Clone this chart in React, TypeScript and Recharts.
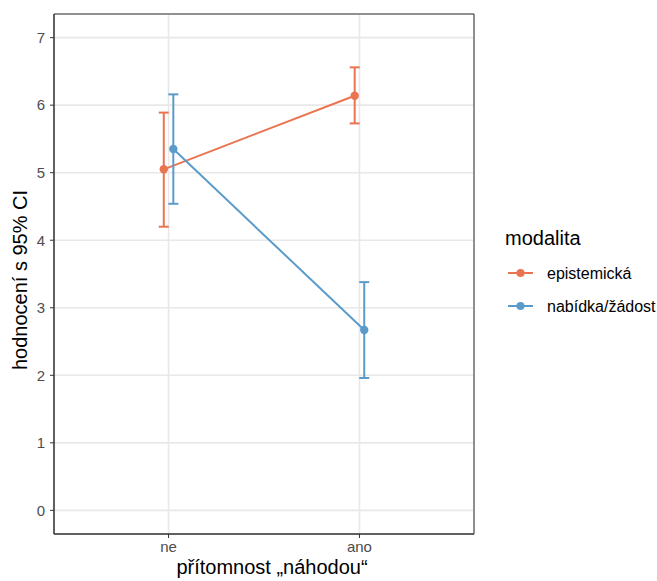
import { LineChart, Line, XAxis, YAxis, CartesianGrid, ErrorBar, ReferenceArea, Label } from "recharts"

const categories = ["ne", "ano"]
const yTicks = [0, 1, 2, 3, 4, 5, 6, 7]

const epistemickaMean = [5.05, 6.14]
const epistemickaLow = [4.2, 5.73]
const epistemickaHigh = [5.89, 6.56]

const nabidkaMean = [5.35, 2.67]
const nabidkaLow = [4.54, 1.96]
const nabidkaHigh = [6.16, 3.38]

const DODGE = 0.025
const ORANGE = "#EA7450"
const BLUE = "#5B9BCA"
const FONT = "'Liberation Sans', Arial, Helvetica, sans-serif"

const build = (mean: number[], low: number[], high: number[], shift: number) =>
  mean.map((m, i) => ({
    x: i + 1 + shift,
    y: m,
    err: [m - low[i], high[i] - m],
  }))

const epistemicka = build(epistemickaMean, epistemickaLow, epistemickaHigh, -DODGE)
const nabidka = build(nabidkaMean, nabidkaLow, nabidkaHigh, DODGE)

const legendItems = [
  { name: "epistemická", color: ORANGE },
  { name: "nabídka/žádost", color: BLUE },
]

export default function App() {
  const tickStyle = { fill: "#4D4D4D", fontSize: 15, fontFamily: FONT }
  return (
    <div style={{ position: "absolute", left: 0, top: 0, width: 657, height: 581, background: "#fff" }}>
      <LineChart width={657} height={581} margin={{ top: 14, right: 183, left: 0, bottom: 0 }}>
        <CartesianGrid stroke="#E8E8E8" strokeWidth={1.6} />
        <XAxis
          type="number"
          dataKey="x"
          domain={[0.4, 2.6]}
          ticks={[1, 2]}
          tickFormatter={(v: number) => categories[v - 1]}
          height={47}
          tick={tickStyle}
          tickSize={4}
          tickMargin={3}
          axisLine={{ stroke: "#333333" }}
          tickLine={{ stroke: "#333333" }}
          allowDataOverflow
        >
          <Label
            content={() => (
              <text x={272} y={574} textAnchor="middle" fontSize={20} fontFamily={FONT} fill="#000">
                přítomnost „náhodou“
              </text>
            )}
          />
        </XAxis>
        <YAxis
          type="number"
          domain={[-0.35, 7.35]}
          ticks={yTicks}
          width={54}
          tick={tickStyle}
          tickSize={4}
          tickMargin={5}
          axisLine={{ stroke: "#333333" }}
          tickLine={{ stroke: "#333333" }}
          allowDataOverflow
        >
          <Label
            content={() => (
              <text
                x={27}
                y={280}
                transform="rotate(-90 27 280)"
                textAnchor="middle"
                fontSize={20}
                fontFamily={FONT}
                fill="#000"
              >
                hodnocení s 95% CI
              </text>
            )}
          />
        </YAxis>
        <ReferenceArea x1={0.4} x2={2.6} y1={-0.35} y2={7.35} fill="none" stroke="#333333" strokeWidth={1} />
        <Line
          data={epistemicka}
          dataKey="y"
          stroke={ORANGE}
          strokeWidth={2}
          dot={{ r: 4.2, fill: ORANGE, stroke: ORANGE, strokeWidth: 0 }}
          activeDot={false}
          isAnimationActive={false}
        >
          <ErrorBar dataKey="err" width={5} stroke={ORANGE} strokeWidth={2} direction="y" />
        </Line>
        <Line
          data={nabidka}
          dataKey="y"
          stroke={BLUE}
          strokeWidth={2}
          dot={{ r: 4.2, fill: BLUE, stroke: BLUE, strokeWidth: 0 }}
          activeDot={false}
          isAnimationActive={false}
        >
          <ErrorBar dataKey="err" width={5} stroke={BLUE} strokeWidth={2} direction="y" />
        </Line>
      </LineChart>
      <svg width={180} height={120} style={{ position: "absolute", left: 490, top: 215 }}>
        <text x={15} y={30} fontSize={20} fontFamily={FONT} fill="#000">
          modalita
        </text>
        {legendItems.map((item, i) => (
          <g key={item.name} transform={`translate(0, ${58 + i * 33})`}>
            <line x1={18} x2={43} y1={0} y2={0} stroke={item.color} strokeWidth={2} />
            <circle cx={30.5} cy={0} r={4} fill={item.color} />
            <text x={57} y={5.5} fontSize={16} fontFamily={FONT} fill="#000">
              {item.name}
            </text>
          </g>
        ))}
      </svg>
    </div>
  )
}
